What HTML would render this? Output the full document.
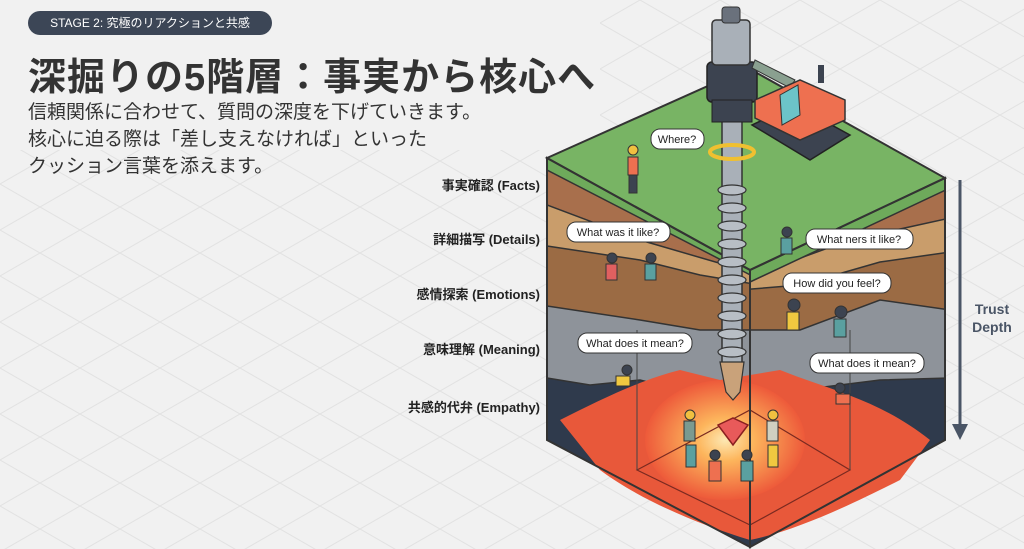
<!DOCTYPE html>
<html><head><meta charset="utf-8">
<style>
body{margin:0;width:1024px;height:549px;overflow:hidden;background:#f1f1f1;font-family:"Liberation Sans","Noto Sans CJK JP",sans-serif;}
.abs{position:absolute}
</style></head><body>
<svg width="1024" height="549" viewBox="0 0 1024 549" style="position:absolute;left:0;top:0">
<defs>
<pattern id="grid" width="80" height="46" patternUnits="userSpaceOnUse">
<path d="M0 0 L80 46 M80 0 L0 46" stroke="#e2e2e2" stroke-width="1" fill="none"/>
</pattern>
<radialGradient id="glow" cx="0.5" cy="0.5" r="0.5">
<stop offset="0" stop-color="#fff8c0"/><stop offset="0.35" stop-color="#ffc060"/><stop offset="1" stop-color="#ee5a3a"/>
</radialGradient>
<clipPath id="lf"><polygon points="547,158 750,270 750,547 547,440"/></clipPath>
<clipPath id="rf"><polygon points="750,270 945,178 945,440 750,547"/></clipPath>
</defs>
<rect width="1024" height="549" fill="#f1f1f1"/>
<rect y="150" width="1024" height="399" fill="url(#grid)"/>
<rect x="600" y="0" width="424" height="150" fill="url(#grid)"/>
<g clip-path="url(#lf)" stroke="#333" stroke-width="1.5">
<polygon points="547,150 760,150 760,560 547,560" fill="#2f3a4c"/>
<polygon points="547,150 760,150 760,400 700,395 640,380 590,385 547,378" fill="#8e939a"/>
<polygon points="547,150 760,150 760,330 700,330 640,320 547,306" fill="#9b6b44"/>
<polygon points="547,150 760,150 760,285 700,275 640,260 547,246" fill="#c99d6b"/>
<polygon points="547,150 760,150 760,275 640,240 547,205" fill="#a86f4c"/>
<polygon points="547,150 760,150 760,280 547,170" fill="#6eaa5b"/>
</g>
<g clip-path="url(#rf)" stroke="#333" stroke-width="1.5">
<polygon points="740,170 950,170 950,560 740,560" fill="#2f3a4c"/>
<polygon points="740,170 950,170 950,378 880,380 800,390 740,395" fill="#8e939a"/>
<polygon points="740,170 950,170 950,310 880,300 800,330 740,330" fill="#9b6b44"/>
<polygon points="740,170 950,170 950,252 880,262 800,285 740,290" fill="#c99d6b"/>
<polygon points="740,170 950,170 950,218 850,240 740,280" fill="#a86f4c"/>
<polygon points="740,170 950,170 950,188 750,282" fill="#6eaa5b"/>
</g>
<polygon points="547,158 748,68 945,178 750,270" fill="#78b464" stroke="#333" stroke-width="2"/>
<path d="M560,420 C600,400 640,380 680,370 L720,380 L780,370 C830,390 880,400 930,440 L900,480 C860,500 800,530 750,540 C700,525 640,500 600,470 Z" fill="#e8583a"/>
<ellipse cx="725" cy="440" rx="80" ry="60" fill="url(#glow)" opacity="0.9"/>
<polygon points="637,470 750,410 850,470 750,525" fill="none" stroke="#7a2a20" stroke-width="1.2"/>
<line x1="637" y1="470" x2="637" y2="330" stroke="#444" stroke-width="1"/>
<line x1="850" y1="470" x2="850" y2="330" stroke="#444" stroke-width="1"/>
<line x1="750" y1="270" x2="750" y2="547" stroke="#333" stroke-width="2"/>
<polygon points="547,158 750,270 750,547 547,440" fill="none" stroke="#333" stroke-width="2"/>
<polygon points="750,270 945,178 945,440 750,547" fill="none" stroke="#333" stroke-width="2"/>
<polygon points="718,425 733,418 748,425 733,445" fill="#e85a5a" stroke="#8a2020" stroke-width="1.5"/>
<rect x="722" y="120" width="20" height="250" fill="#a9b0b8" stroke="#333" stroke-width="1.5"/>
<g stroke="#333" stroke-width="1.2" fill="#b8bec5">
<ellipse cx="732" cy="190" rx="14" ry="5"/><ellipse cx="732" cy="208" rx="14" ry="5"/><ellipse cx="732" cy="226" rx="14" ry="5"/><ellipse cx="732" cy="244" rx="14" ry="5"/><ellipse cx="732" cy="262" rx="14" ry="5"/><ellipse cx="732" cy="280" rx="14" ry="5"/><ellipse cx="732" cy="298" rx="14" ry="5"/><ellipse cx="732" cy="316" rx="14" ry="5"/><ellipse cx="732" cy="334" rx="14" ry="5"/><ellipse cx="732" cy="352" rx="14" ry="5"/>
</g>
<polygon points="720,362 744,362 740,392 733,400 726,392" fill="#c9a27a" stroke="#333" stroke-width="1.2"/>
<ellipse cx="732" cy="152" rx="22" ry="7" fill="none" stroke="#f0c030" stroke-width="4"/>
<rect x="707" y="62" width="50" height="40" rx="5" fill="#3c4350" stroke="#222" stroke-width="1.5"/>
<rect x="712" y="100" width="40" height="22" fill="#3c4350" stroke="#222"/>
<rect x="712" y="20" width="38" height="45" rx="4" fill="#a9b0b8" stroke="#333" stroke-width="1.5"/>
<rect x="722" y="7" width="18" height="16" rx="3" fill="#6a717c" stroke="#333"/>
<polygon points="755,60 795,80 790,88 752,68" fill="#8aa090" stroke="#333"/>
<polygon points="752,125 810,160 850,135 795,105" fill="#3c4350" stroke="#222" stroke-width="1.5"/>
<polygon points="755,100 800,80 845,100 845,120 800,140 755,118" fill="#ee7050" stroke="#333" stroke-width="1.5"/>
<polygon points="780,95 798,85 800,115 782,125" fill="#6cc4c8" stroke="#333"/>
<rect x="818" y="65" width="6" height="18" fill="#3c4350"/>
<line x1="960" y1="180" x2="960" y2="425" stroke="#4a5566" stroke-width="3"/>
<polygon points="952,424 968,424 960,440" fill="#4a5566"/>
<g font-size="11" fill="#222" stroke="none">
<rect x="651" y="129" width="53" height="20" rx="9" fill="#fff" stroke="#333"/><text x="677" y="143" text-anchor="middle">Where?</text>
<rect x="567" y="222" width="103" height="20" rx="9" fill="#fff" stroke="#333"/><text x="618" y="236" text-anchor="middle">What was it like?</text>
<rect x="806" y="229" width="107" height="20" rx="9" fill="#fff" stroke="#333"/><text x="859" y="243" text-anchor="middle">What ners it like?</text>
<rect x="783" y="273" width="108" height="20" rx="9" fill="#fff" stroke="#333"/><text x="837" y="287" text-anchor="middle">How did you feel?</text>
<rect x="578" y="333" width="114" height="20" rx="9" fill="#fff" stroke="#333"/><text x="635" y="347" text-anchor="middle">What does it mean?</text>
<rect x="810" y="353" width="114" height="20" rx="9" fill="#fff" stroke="#333"/><text x="867" y="367" text-anchor="middle">What does it mean?</text>
</g>
<g stroke="#333" stroke-width="1">
<circle cx="633" cy="150" r="5" fill="#f0c040"/><rect x="628" y="157" width="10" height="18" fill="#ee7050"/><rect x="629" y="175" width="8" height="18" fill="#3c4350"/>
<circle cx="612" cy="258" r="5" fill="#3c4350"/><rect x="606" y="264" width="11" height="16" fill="#e06060"/>
<circle cx="651" cy="258" r="5" fill="#3c4350"/><rect x="645" y="264" width="11" height="16" fill="#5aa0a0"/>
<circle cx="787" cy="232" r="5" fill="#3c4350"/><rect x="781" y="238" width="11" height="16" fill="#5aa0a0"/>
<circle cx="794" cy="305" r="6" fill="#3c4350"/><rect x="787" y="312" width="12" height="18" fill="#f0c840"/>
<circle cx="841" cy="312" r="6" fill="#3c4350"/><rect x="834" y="319" width="12" height="18" fill="#5aa0a0"/>
<circle cx="627" cy="370" r="5" fill="#3c4350"/><rect x="616" y="376" width="14" height="10" fill="#f0c840"/>
<circle cx="840" cy="388" r="5" fill="#3c4350"/><rect x="836" y="394" width="14" height="10" fill="#ee7050"/>
<circle cx="690" cy="415" r="5" fill="#f0c040"/><rect x="684" y="421" width="11" height="20" fill="#7a9a90"/>
<circle cx="773" cy="415" r="5" fill="#f0c040"/><rect x="767" y="421" width="11" height="20" fill="#d0d0c0"/>
<circle cx="715" cy="455" r="5" fill="#3c4350"/><rect x="709" y="461" width="12" height="20" fill="#ee7050"/>
<circle cx="747" cy="455" r="5" fill="#3c4350"/><rect x="741" y="461" width="12" height="20" fill="#5aa0a0"/>
<rect x="686" y="445" width="10" height="22" fill="#5aa0a0"/><rect x="768" y="445" width="10" height="22" fill="#f0c840"/>
</g>
</svg>
<div class="abs" style="left:28px;top:11px;width:244px;height:24px;border-radius:12px;background:#3c4656;color:#fff;font-size:12px;line-height:24px;text-align:center;white-space:nowrap;">STAGE 2: 究極のリアクションと共感</div>
<div class="abs" style="left:28px;top:46px;font-size:38px;font-weight:bold;color:#333;letter-spacing:1px;white-space:nowrap;">深掘りの5階層：事実から核心へ</div>
<div class="abs" style="left:28px;top:99px;font-size:19px;color:#333;line-height:27px;white-space:nowrap;">信頼関係に合わせて、質問の深度を下げていきます。<br>核心に迫る際は「差し支えなければ」といった<br>クッション言葉を添えます。</div>
<div class="abs" style="right:484px;top:177px;font-size:13px;font-weight:bold;color:#222;text-align:right;line-height:18px;white-space:nowrap;">
<div style="position:absolute;right:0;top:0">事実確認 (Facts)</div>
<div style="position:absolute;right:0;top:54px">詳細描写 (Details)</div>
<div style="position:absolute;right:0;top:109px">感情探索 (Emotions)</div>
<div style="position:absolute;right:0;top:164px">意味理解 (Meaning)</div>
<div style="position:absolute;right:0;top:222px">共感的代弁 (Empathy)</div>
</div>
<div class="abs" style="left:968px;top:300px;font-size:14px;font-weight:bold;color:#4a5566;text-align:center;line-height:18px;width:48px;">Trust<br>Depth</div>
</body></html>
